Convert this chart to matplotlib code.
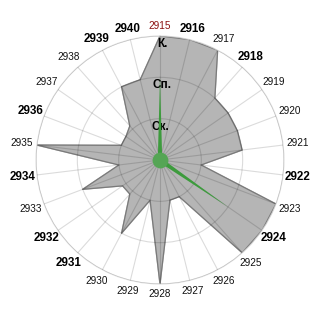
import numpy as np
import matplotlib
matplotlib.use('Agg')
import matplotlib.pyplot as plt

plt.rcParams['font.family'] = ['Liberation Sans', 'DejaVu Sans']

# categories clockwise from top
categories = [str(c) for c in range(2915, 2941)]
values = [3.0, 3.0, 3.0, 2.0, 2.0, 2.0, 2.0, 1.0, 3.0, 3.0, 3.0, 1.0, 1.0,
          3.0, 1.0, 2.0, 1.1, 1.1, 2.0, 1.0, 3.0, 1.0, 1.0, 1.1, 2.0, 2.0]
bold_labels = ['2916', '2918', '2922', '2924', '2931', '2932', '2934',
               '2936', '2939', '2940']
highlight_label = '2915'

ring_values = [1, 2, 3]
ring_labels = ['Ск.', 'Сп.', 'К.']

needle_cats = ['2915', '2924']
needle_vals = [2.0, 2.0]

fill_color = '#b5b5b5'
edge_color = '#7a7a7a'
green_line = '#3d9b3d'
green_dot = '#55a555'

n = len(categories)
theta = np.arange(n) * 2 * np.pi / n

fig = plt.figure(figsize=(3.2, 3.2), dpi=100)
ax = fig.add_axes([0.1125, 0.1125, 0.775, 0.775], projection='polar')
ax.set_theta_zero_location('N')
ax.set_theta_direction(-1)
ax.set_ylim(0, 3)

# filled polygon
th_closed = np.append(theta, theta[0])
v_closed = np.append(values, values[0])
ax.fill(th_closed, v_closed, color=fill_color, zorder=1)
ax.plot(th_closed, v_closed, color=edge_color, lw=0.9, zorder=2)

# grid drawn over the fill
ax.set_axisbelow(False)
ax.set_rgrids(ring_values, labels=[''] * 3)
ax.set_thetagrids(np.degrees(theta), labels=[''] * n)
ax.grid(True, color='black', alpha=0.14, lw=0.8)
ax.spines['polar'].set_color('#dddddd')
ax.spines['polar'].set_linewidth(0.8)
ax.tick_params(length=0)

# category labels
for t, lab in zip(theta, categories):
    r = 3.24 + 0.12 * abs(np.sin(t))
    if lab == highlight_label:
        ax.text(t, r, lab, ha='center', va='center', fontsize=7.2,
                color='#8b1010', clip_on=False)
    elif lab in bold_labels:
        ax.text(t, r, lab, ha='center', va='center', fontsize=8.4,
                fontweight='bold', color='black', clip_on=False)
    else:
        ax.text(t, r, lab, ha='center', va='center', fontsize=7.2,
                color='#111111', clip_on=False)

# ring labels
for rv, rl in zip(ring_values, ring_labels):
    ax.text(0.02, rv - 0.05, rl, ha='center', va='top', fontsize=8.5,
            fontweight='bold', color='black', zorder=3)

# green needles
for c, v in zip(needle_cats, needle_vals):
    t = theta[categories.index(c)]
    ax.annotate('', xy=(t, v), xytext=(t, 0),
                arrowprops=dict(arrowstyle='wedge,tail_width=0.32,shrink_factor=0.5',
                                color=green_line, lw=0, shrinkA=0, shrinkB=0),
                zorder=4)

ax.scatter([0], [0], s=130, color=green_dot, zorder=5, lw=0)

fig.savefig('out.png', dpi=100)
